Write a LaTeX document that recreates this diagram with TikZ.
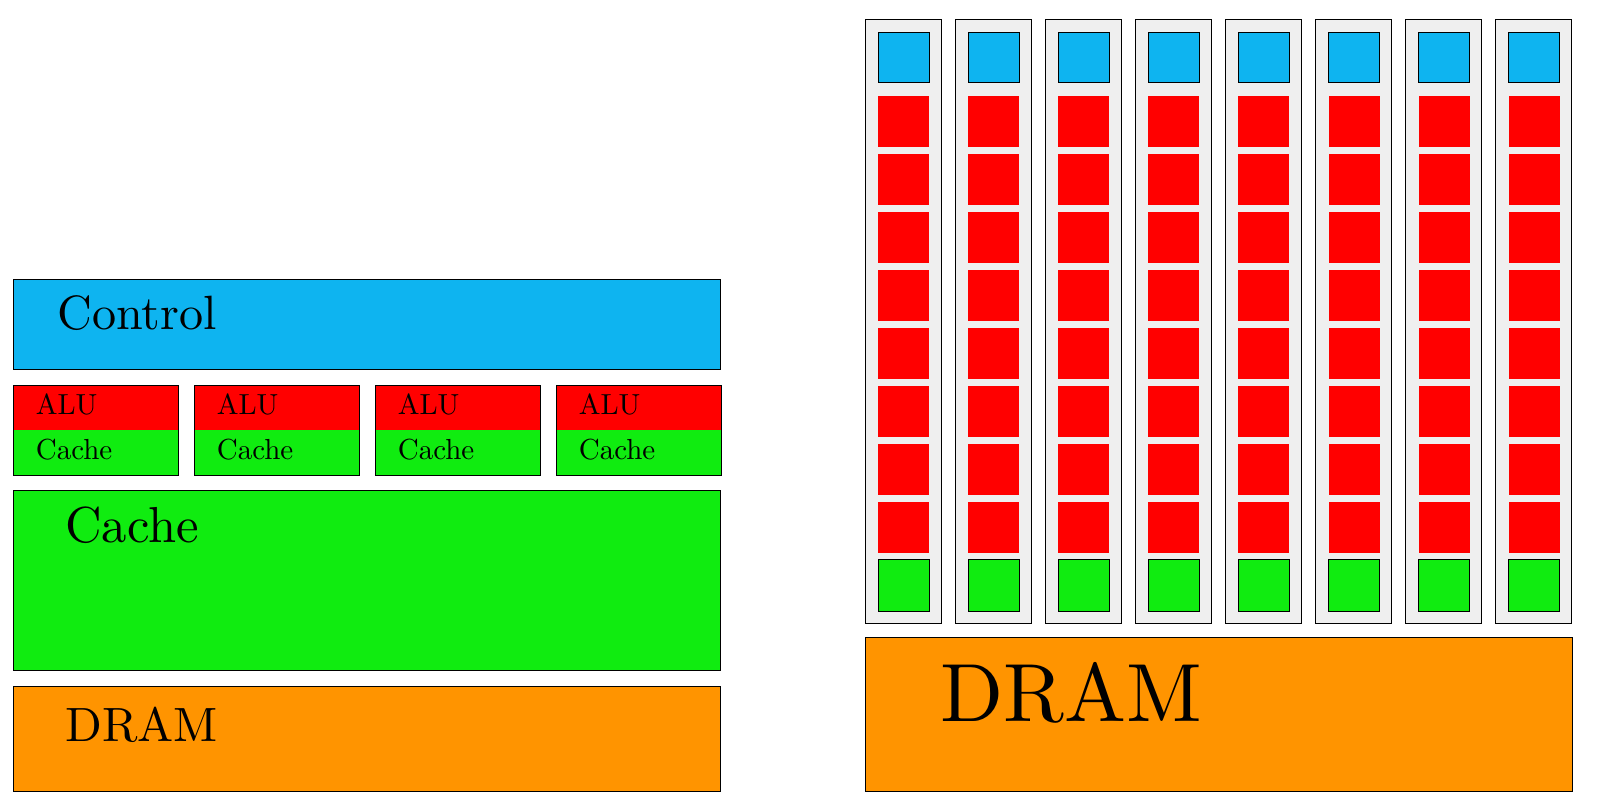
\documentclass[tikz,border=0pt]{standalone}
\usepackage{fontspec}
\setmainfont{lmroman10-regular.otf}
\usepackage{tikz}
\usetikzlibrary{positioning}
\usepackage{xcolor}
\definecolor{ctrlblue}{RGB}{14,180,240}
\definecolor{alured}{RGB}{255,0,0}
\definecolor{cachegreen}{RGB}{16,236,16}
\definecolor{dramorange}{RGB}{255,148,0}
\definecolor{coregray}{RGB}{239,239,239}

\begin{document}
\begin{tikzpicture}[x=0.02cm, y=-0.02cm,
    box/.style={draw=black, line width=0.5pt},
    biglabel/.style={anchor=base west, inner sep=0pt, font=\fontsize{27.4}{34}\selectfont},
    smalllabel/.style={anchor=base west, inner sep=0pt, font=\fontsize{16.5}{20}\selectfont},
    hugelabel/.style={anchor=base west, inner sep=0pt, font=\fontsize{47}{56}\selectfont}]
    \useasboundingbox (0,0) rectangle (1600,798);
    % CPU
    \draw[box, fill=ctrlblue] (13,279) rectangle (720,369);
    \node[biglabel] (control) at (57,329) {Control};
    \foreach \i in {0,...,3} {
        \fill[alured] (13+181*\i,385) rectangle (178+181*\i,430);
        \fill[cachegreen] (13+181*\i,430) rectangle (178+181*\i,475);
        \draw[box] (13+181*\i,385) rectangle (178+181*\i,475);
        \node[smalllabel] (alu\i) at (35.5+181*\i,414) {ALU};
        \node[smalllabel] (cache\i) at (35.5+181*\i,459) {Cache};
    }
    \draw[box, fill=cachegreen] (13,490) rectangle (720,670);
    \node[biglabel, font=\fontsize{28.8}{34}\selectfont] (cpucache) at (65,542) {Cache};
    \draw[box, fill=dramorange] (13,686) rectangle (720,791);
    \node[biglabel] (cpudram) at (65,741) {DRAM};
    % GPU
    \foreach \c in {0,...,7} {
        \draw[box, fill=coregray] (865+90.1*\c,19) rectangle (941+90.1*\c,623);
        \draw[box, fill=ctrlblue] (878+90.1*\c,32) rectangle (929+90.1*\c,82);
        \foreach \r in {0,...,7}
            \fill[alured] (878+90.1*\c,96+58*\r) rectangle (929+90.1*\c,147+58*\r);
        \draw[box, fill=cachegreen] (878+90.1*\c,559) rectangle (929+90.1*\c,611);
    }
    \draw[box, fill=dramorange] (865,637) rectangle (1572,791);
    \node[hugelabel] (gpudram) at (940,721) {DRAM};
\end{tikzpicture}
\end{document}
